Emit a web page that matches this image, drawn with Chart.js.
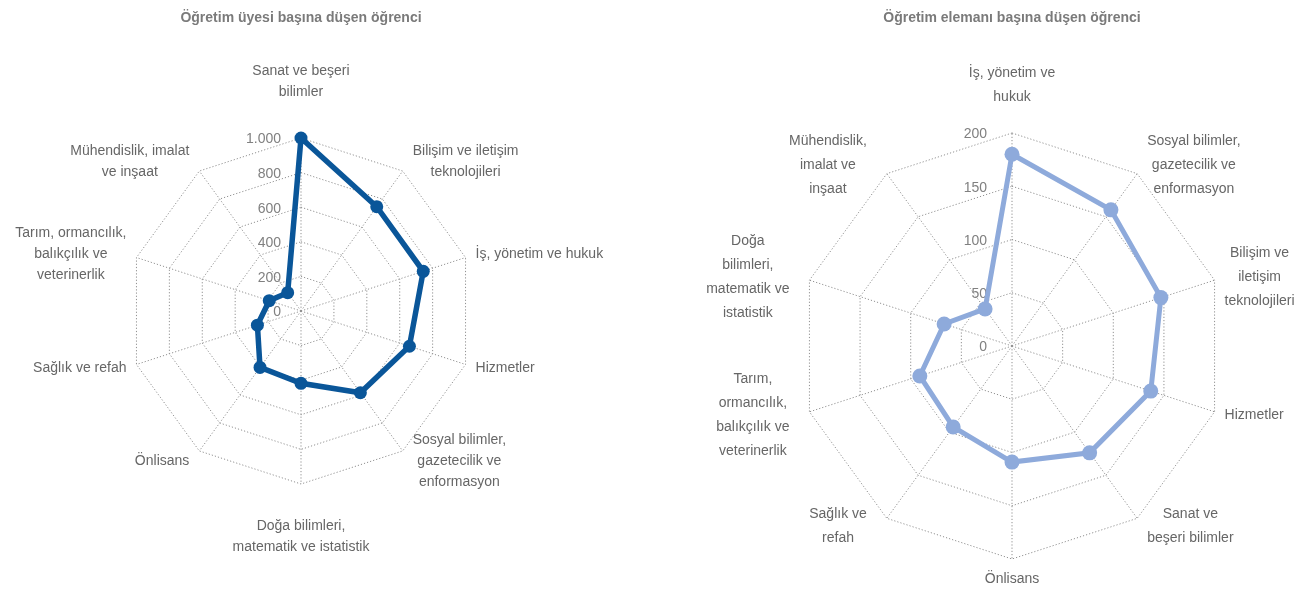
<!DOCTYPE html>
<html>
<head>
<meta charset="utf-8">
<script src="https://cdn.jsdelivr.net/npm/chart.js@4/dist/chart.umd.min.js"></script>
<style>
  html, body { margin: 0; padding: 0; background: #ffffff; }
  #wrap { position: relative; width: 1307px; height: 589px; }
  #leftBox { position: absolute; left: 0; top: 0; width: 650px; height: 589px; }
  #rightBox { position: absolute; left: 650px; top: 0; width: 657px; height: 589px; }
</style>
</head>
<body>
<div id="wrap">
  <div id="leftBox"><canvas id="leftChart"></canvas></div>
  <div id="rightBox"><canvas id="rightChart"></canvas></div>
</div>
<script>
// ---------- Left chart data ----------
const leftTitle = 'Öğretim üyesi başına düşen öğrenci';
const leftCategories = [
  ['Sanat ve beşeri', 'bilimler'],
  ['Bilişim ve iletişim', 'teknolojileri'],
  ['İş, yönetim ve hukuk'],
  ['Hizmetler'],
  ['Sosyal bilimler,', 'gazetecilik ve', 'enformasyon'],
  ['Doğa bilimleri,', 'matematik ve istatistik'],
  ['Önlisans'],
  ['Sağlık ve refah'],
  ['Tarım, ormancılık,', 'balıkçılık ve', 'veterinerlik'],
  ['Mühendislik, imalat', 've inşaat']
];
const leftValues = [1000, 745, 743, 659, 584, 418, 403, 265, 193, 131];
const leftTickValues = [0, 200, 400, 600, 800, 1000];
const leftTickLabels = ['0', '200', '400', '600', '800', '1.000'];

// ---------- Right chart data ----------
const rightTitle = 'Öğretim elemanı başına düşen öğrenci';
const rightCategories = [
  ['İş, yönetim ve', 'hukuk'],
  ['Sosyal bilimler,', 'gazetecilik ve', 'enformasyon'],
  ['Bilişim ve', 'iletişim', 'teknolojileri'],
  ['Hizmetler'],
  ['Sanat ve', 'beşeri bilimler'],
  ['Önlisans'],
  ['Sağlık ve', 'refah'],
  ['Tarım,', 'ormancılık,', 'balıkçılık ve', 'veterinerlik'],
  ['Doğa', 'bilimleri,', 'matematik ve', 'istatistik'],
  ['Mühendislik,', 'imalat ve', 'inşaat']
];
const rightValues = [180, 158, 147, 137, 124, 109, 94, 91, 67, 43];
const rightTickValues = [0, 50, 100, 150, 200];
const rightTickLabels = ['0', '50', '100', '150', '200'];

// ---------- Rendering ----------
const FONT = '"Liberation Sans", Arial, Helvetica, sans-serif';
Chart.defaults.font.family = FONT;

function makeLabelPlugin(cfg) {
  return {
    id: 'excelLabels',
    beforeDatasetsDraw(chart) {
      const scale = chart.scales.r;
      const ctx = chart.ctx;
      ctx.save();
      ctx.font = '14px ' + FONT;
      ctx.fillStyle = '#808080';
      ctx.textAlign = 'right';
      ctx.textBaseline = 'middle';
      cfg.tickValues.forEach((v, k) => {
        const d = scale.getDistanceFromCenterForValue(v);
        ctx.fillText(cfg.tickLabels[k], scale.xCenter - cfg.tickGap, scale.yCenter - d + 1.5);
      });
      // category labels
      const R = scale.drawingArea;
      ctx.fillStyle = '#666666';
      ctx.textAlign = 'center';
      cfg.categories.forEach((lines, i) => {
        const p = scale.getPointPosition(i, R);
        const ang = p.angle + Math.PI / 2;
        const s = Math.sin(ang), c = Math.cos(ang);
        const w = Math.max(...lines.map(t => ctx.measureText(t).width));
        const h = lines.length * cfg.lineHeight;
        let cx = p.x, cy = p.y;
        if (Math.abs(s) > 0.01) {
          cx += s > 0 ? (w / 2 + cfg.gapRight) : -(w / 2 + cfg.gapLeft);
          cy += -c * cfg.gapSide;
        } else {
          cy += c > 0 ? -(h / 2 + cfg.gapTop) : (h / 2 + cfg.gapBottom);
        }
        lines.forEach((t, k) => {
          ctx.fillText(t, cx, cy - h / 2 + cfg.lineHeight * (k + 0.5));
        });
      });
      ctx.restore();
    }
  };
}

function makeChart(canvasId, cfg) {
  return new Chart(document.getElementById(canvasId), {
    type: 'radar',
    data: {
      labels: cfg.categories.map(l => l.join(' ')),
      datasets: [{
        data: cfg.values,
        borderColor: cfg.color,
        backgroundColor: cfg.color,
        pointBackgroundColor: cfg.color,
        pointBorderColor: cfg.color,
        borderWidth: cfg.lineWidth,
        pointRadius: cfg.pointRadius,
        pointBorderWidth: 0,
        fill: false,
        tension: 0
      }]
    },
    options: {
      responsive: true,
      maintainAspectRatio: false,
      animation: false,
      layout: { padding: cfg.padding },
      plugins: {
        legend: { display: false },
        tooltip: { enabled: false },
        title: {
          display: true,
          text: cfg.title,
          color: '#7a7a7a',
          font: { size: 14, weight: 'bold', family: FONT, lineHeight: 1.2 },
          padding: { top: 10, bottom: cfg.titleBottom }
        }
      },
      scales: {
        r: {
          min: 0,
          max: cfg.tickValues[cfg.tickValues.length - 1],
          ticks: { display: false, stepSize: cfg.tickValues[1] - cfg.tickValues[0] },
          pointLabels: { display: false },
          grid: { circular: false, color: '#909090', lineWidth: 1 },
          border: { dash: [1.2, 2] },
          angleLines: { display: true, color: '#909090', lineWidth: 1, borderDash: [1.2, 2] }
        }
      }
    },
    plugins: [makeLabelPlugin(cfg)]
  });
}

makeChart('leftChart', {
  title: leftTitle,
  categories: leftCategories,
  values: leftValues,
  tickValues: leftTickValues,
  tickLabels: leftTickLabels,
  color: '#0a5699',
  lineWidth: 5.5,
  pointRadius: 6.5,
  padding: { left: 128, right: 176, top: 0, bottom: 105 },
  titleBottom: 111.2,
  tickGap: 20,
  lineHeight: 21,
  gapRight: 10, gapLeft: 10, gapSide: 12, gapTop: 35, gapBottom: 32
});

makeChart('rightChart', {
  title: rightTitle,
  categories: rightCategories,
  values: rightValues,
  tickValues: rightTickValues,
  tickLabels: rightTickLabels,
  color: '#8eaadb',
  lineWidth: 5,
  pointRadius: 7.5,
  padding: { left: 149, right: 82, top: 0, bottom: 30 },
  titleBottom: 106.2,
  tickGap: 25,
  lineHeight: 24,
  gapRight: 10, gapLeft: 20, gapSide: 10, gapTop: 24, gapBottom: 8
});
</script>
</body>
</html>
